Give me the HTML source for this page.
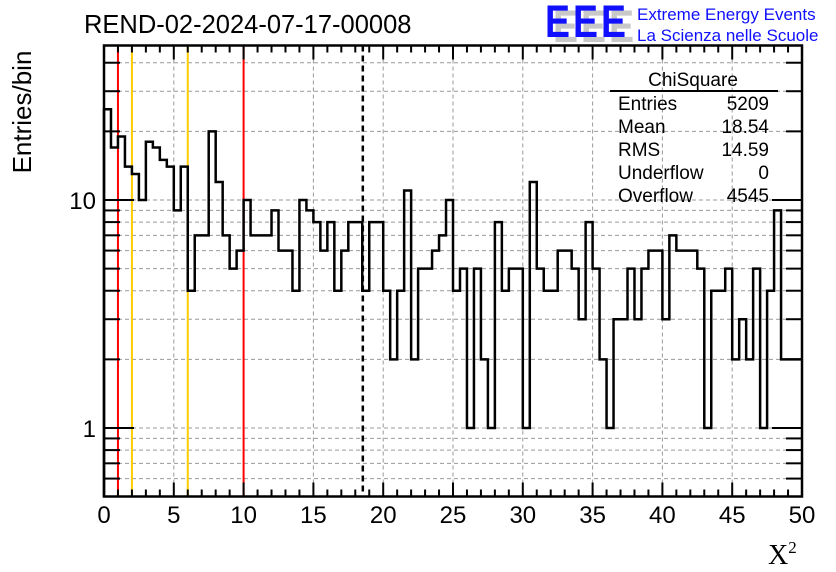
<!DOCTYPE html>
<html><head><meta charset="utf-8">
<style>
html,body{margin:0;padding:0;background:#fff;}
svg{display:block;font-family:"Liberation Sans",sans-serif;}
</style></head>
<body>
<svg id="chart" width="836" height="572" viewBox="0 0 836 572" xmlns="http://www.w3.org/2000/svg">
  <rect x="0" y="0" width="836" height="572" fill="#fff"/>
  <g id="grid"></g>
  <g id="refs"></g>
  <g id="hist"></g>
  <g id="axes"></g>
  <text x="84" y="33" font-size="25.5">REND-02-2024-07-17-00008</text>
  <text transform="translate(31,112) rotate(-90)" text-anchor="middle" font-size="26">Entries/bin</text>
  <text x="768" y="564" font-family="Liberation Serif, serif" font-size="28">X<tspan font-size="17" dy="-11">2</tspan></text>
  <g font-size="45" font-weight="bold">
    <text x="553" y="42" fill="#c8c8c8" textLength="25" lengthAdjust="spacingAndGlyphs">E</text>
    <text x="581" y="42" fill="#c8c8c8" textLength="25" lengthAdjust="spacingAndGlyphs">E</text>
    <text x="609" y="42" fill="#c8c8c8" textLength="25" lengthAdjust="spacingAndGlyphs">E</text>
    <text x="545" y="37" fill="#1010ff" textLength="25" lengthAdjust="spacingAndGlyphs">E</text>
    <text x="573" y="37" fill="#1010ff" textLength="25" lengthAdjust="spacingAndGlyphs">E</text>
    <text x="601" y="37" fill="#1010ff" textLength="25" lengthAdjust="spacingAndGlyphs">E</text>
  </g>
  <text x="637" y="20" font-size="17" fill="#1010ff">Extreme Energy Events</text>
  <text x="637" y="41" font-size="17" fill="#1010ff">La Scienza nelle Scuole</text>
  <g font-size="19">
    <text x="693" y="86" text-anchor="middle">ChiSquare</text>
    <line x1="610" y1="91" x2="778" y2="91" stroke="#000" stroke-width="2"/>
    <text x="618" y="110">Entries</text><text x="769" y="110" text-anchor="end">5209</text>
    <text x="618" y="133">Mean</text><text x="769" y="133" text-anchor="end">18.54</text>
    <text x="618" y="156">RMS</text><text x="769" y="156" text-anchor="end">14.59</text>
    <text x="618" y="179">Underflow</text><text x="769" y="179" text-anchor="end">0</text>
    <text x="618" y="202">Overflow</text><text x="769" y="202" text-anchor="end">4545</text>
  </g>
</svg>
<script>
const binEdgesStart = 0;
const binWidth = 0.5;
const counts = [25,17,19,14,13,10,18,17,15,14,9,14,4,7,7,20,12,7,5,6,
10,7,7,7,9,6,6,4,10,9,8,6,8,4,6,8,8,4,8,8,
4,2,4,11,2,5,5,6,7,10,4,5,1,5,2,1,8,4,5,5,
1,12,5,4,4,6,6,5,3,8,5,2,1,3,3,5,3,5,6,6,
3,7,6,6,6,5,1,4,4,5,2,3,2,5,1,4,9,2,2,2];
const xTickLabels = ["0","5","10","15","20","25","30","35","40","45","50"];
const yTickLabels = ["1","10"];
const meanValue = 18.54;
const redLines = [1,10];
const orangeLines = [2,6];

const X0=104,X1=802,Y0=496.5,Y1=45.5;
const xMin=0,xMax=50;
function xs(v){return X0+(v-xMin)/(xMax-xMin)*(X1-X0);}
function ys(v){return 428-228*Math.log10(v);}
const NS="http://www.w3.org/2000/svg";
function mk(tag,attrs,parent){const e=document.createElementNS(NS,tag);for(const k in attrs)e.setAttribute(k,attrs[k]);parent.appendChild(e);return e;}
const grid=document.getElementById('grid'),refs=document.getElementById('refs'),hist=document.getElementById('hist'),axes=document.getElementById('axes');

for(let v=5;v<50;v+=5){
  const l=mk('line',{x1:xs(v),x2:xs(v),y1:Y1,y2:Y0,stroke:'#999','stroke-width':1,'stroke-dasharray':'4,3'},grid);
  
  
}
const yGridVals=[0.6,0.7,0.8,0.9,1,2,3,4,5,6,7,8,9,10,20,30,40];
yGridVals.forEach(v=>{
  const y=ys(v); if(y<Y1||y>Y0)return;
  const l=mk('line',{x1:X0,x2:X1,y1:y,y2:y,stroke:'#999','stroke-width':1,'stroke-dasharray':'4,3'},grid);
  
  
});
redLines.forEach(v=>{
  const l=mk('line',{x1:xs(v),x2:xs(v),y1:Y1,y2:Y0,stroke:'#ff0000','stroke-width':2},refs);
  
  
});
orangeLines.forEach(v=>{
  const l=mk('line',{x1:xs(v),x2:xs(v),y1:Y1,y2:Y0,stroke:'#ffcc00','stroke-width':2},refs);
  
  
});
const ml=mk('line',{x1:xs(meanValue),x2:xs(meanValue),y1:Y1,y2:Y0,stroke:'#000','stroke-width':2.5,'stroke-dasharray':'6,4'},refs);



let d='M'+xs(binEdgesStart)+','+Y0;
counts.forEach((c,i)=>{
  const xa=xs(binEdgesStart+i*binWidth),xb=xs(binEdgesStart+(i+1)*binWidth);
  const y=c>0?Math.min(ys(c),Y0):Y0;
  d+=' L'+xa+','+y+' L'+xb+','+y;
});
const hp=mk('path',{d:d,fill:'none',stroke:'#000','stroke-width':2.5,'stroke-linejoin':'miter'},hist);



const fr=mk('rect',{x:X0,y:Y1,width:X1-X0,height:Y0-Y1,fill:'none',stroke:'#000','stroke-width':2.5},axes);


for(let v=0;v<=50;v+=1){
  const major=v%5===0,len=major?14:7;
  mk('line',{x1:xs(v),x2:xs(v),y1:Y0,y2:Y0-len,stroke:'#000','stroke-width':2},axes);
  mk('line',{x1:xs(v),x2:xs(v),y1:Y1,y2:Y1+len,stroke:'#000','stroke-width':2},axes);
}
xTickLabels.forEach(s=>{
  const t=mk('text',{x:xs(+s),y:523,'text-anchor':'middle','font-size':'24'},axes);
  t.textContent=s;
  
  
});
yGridVals.forEach(v=>{
  const y=ys(v); if(y<Y1||y>Y0)return;
  const major=(v===1||v===10),len=major?30:16;
  mk('line',{x1:X0,x2:X0+len,y1:y,y2:y,stroke:'#000','stroke-width':2},axes);
  mk('line',{x1:X1,x2:X1-len,y1:y,y2:y,stroke:'#000','stroke-width':2},axes);
});
yTickLabels.forEach(s=>{
  const t=mk('text',{x:96,y:ys(+s)+9,'text-anchor':'end','font-size':'24'},axes);
  t.textContent=s;
  
  
});
</script>
</body></html>
